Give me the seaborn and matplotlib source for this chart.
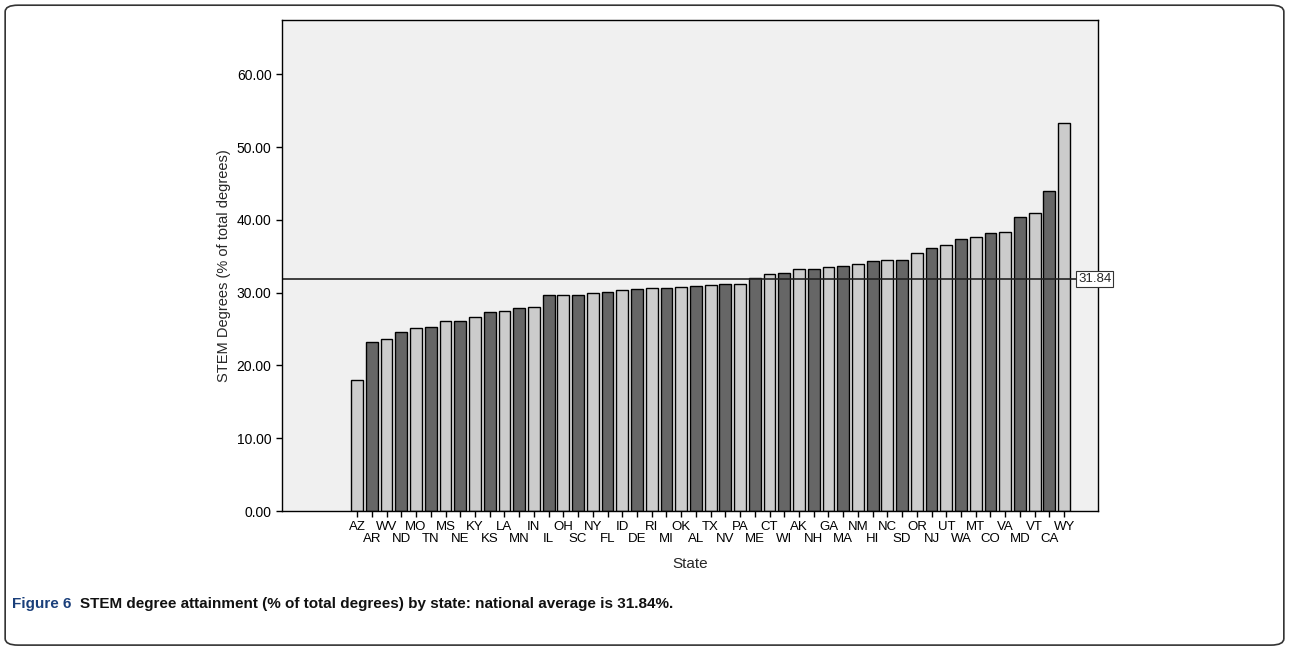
import numpy as np
import pandas as pd
import seaborn as sns
import matplotlib.pyplot as plt
from matplotlib.patches import FancyBboxPatch

states = ['AZ', 'AR', 'WV', 'ND', 'MO', 'TN', 'MS', 'NE', 'KY', 'KS', 'LA', 'MN', 'IN', 'IL',
          'OH', 'SC', 'NY', 'FL', 'ID', 'DE', 'RI', 'MI', 'OK', 'AL', 'TX', 'NV', 'PA', 'ME',
          'CT', 'WI', 'AK', 'NH', 'GA', 'MA', 'NM', 'HI', 'NC', 'SD', 'OR', 'NJ', 'UT', 'WA',
          'MT', 'CO', 'VA', 'MD', 'VT', 'CA', 'WY']
stem_pct = [18.0, 23.2, 23.6, 24.6, 25.1, 25.3, 26.1, 26.1, 26.6, 27.4, 27.5, 27.9, 28.0, 29.7,
            29.7, 29.7, 29.9, 30.1, 30.3, 30.5, 30.6, 30.6, 30.8, 30.9, 31.0, 31.2, 31.2, 32.0,
            32.6, 32.7, 33.2, 33.2, 33.5, 33.6, 33.9, 34.3, 34.5, 34.5, 35.5, 36.1, 36.6, 37.4,
            37.6, 38.2, 38.3, 40.4, 40.9, 44.0, 53.3]
national_avg = 31.84
yticks = [0, 10, 20, 30, 40, 50, 60]

df = pd.DataFrame({'state': states, 'pct': stem_pct})
df['shade'] = ['light' if i % 2 == 0 else 'dark' for i in range(len(df))]

sns.set_style('white')
plt.rcParams['font.family'] = ['Liberation Sans', 'DejaVu Sans']

fig = plt.figure(figsize=(12.89, 6.49), dpi=100)
box = FancyBboxPatch((0.004, 0.006), 0.992, 0.986, boxstyle='round,pad=0,rounding_size=0.01',
                     transform=fig.transFigure, fc='white', ec='#333333', lw=1.2, zorder=-10)
fig.patches.append(box)
ax = fig.add_axes([0.2188, 0.2126, 0.633, 0.757])
ax.set_facecolor('#f0f0f0')

sns.barplot(data=df, x='state', y='pct', hue='shade', palette={'light': '#cccccc', 'dark': '#666666'},
            dodge=False, width=0.8, edgecolor='black', linewidth=1.0, legend=False, ax=ax)

ax.axhline(national_avg, color='#222222', lw=1.2)
ax.text(len(states) - 0.05, national_avg, '31.84', fontsize=9.5, va='center', ha='left',
        bbox=dict(fc='white', ec='#333333', lw=0.8, pad=1.5))

ax.set_xlim(-5.1, 50.3)
ax.set_ylim(0, 67.5)
ax.set_yticks(yticks)
ax.set_yticklabels([f'{v:.2f}' for v in yticks], fontsize=10)
ax.set_xticks(range(len(states)))
ax.set_xticklabels([s if i % 2 == 0 else '\n' + s for i, s in enumerate(states)], fontsize=9.5,
                   linespacing=1.0)
ax.tick_params(axis='both', direction='out', length=4, width=1, colors='black', bottom=True, left=True)
for s in ax.spines.values():
    s.set_color('black')
    s.set_linewidth(1)
ax.set_xlabel('State', fontsize=11, labelpad=8)
ax.set_ylabel('STEM Degrees (% of total degrees)', fontsize=10.5)

fig.text(0.009, 0.07, 'Figure 6', fontsize=11, fontweight='bold', color='#1a3f7a', va='center')
fig.text(0.062, 0.07, 'STEM degree attainment (% of total degrees) by state: national average is 31.84%.',
         fontsize=11, fontweight='bold', color='#111111', va='center')

fig.savefig('out.png', dpi=100)
